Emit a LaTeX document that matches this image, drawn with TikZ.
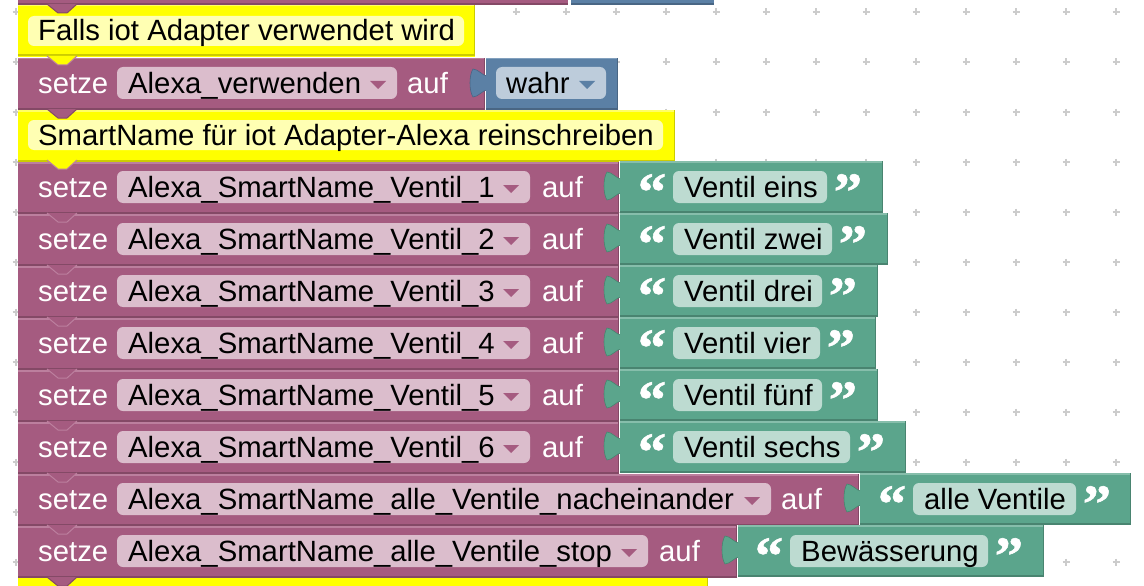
\documentclass[tikz,border=0pt]{standalone}
\usepackage{fontspec}
\setmainfont{Liberation Sans}
\newfontfamily\quotefont[FakeStretch=1.05,FakeBold=1]{Liberation Serif}
\definecolor{purp}{HTML}{A55B80}
\definecolor{purplight}{HTML}{BC7F9E}
\definecolor{purpdark}{HTML}{844966}
\definecolor{purpfield}{HTML}{DBBDCC}
\definecolor{blu}{HTML}{5B80A5}
\definecolor{blulight}{HTML}{82A0BE}
\definecolor{bludark}{HTML}{496684}
\definecolor{blufield}{HTML}{BDCCDB}
\definecolor{grn}{HTML}{5BA58C}
\definecolor{grnlight}{HTML}{86BEAB}
\definecolor{grndark}{HTML}{498470}
\definecolor{grnfield}{HTML}{BDDBD1}
\definecolor{yel}{HTML}{FFFF00}
\definecolor{yellight}{HTML}{FFFF66}
\definecolor{yeldark}{HTML}{CCCC00}
\definecolor{yelfield}{HTML}{FFFFB3}
\tikzset{
  blocktext/.style={anchor=base west,inner sep=0pt,font=\fontsize{29.3}{32}\selectfont},
  whitetext/.style={blocktext,text=white},
  quotemark/.style={anchor=base,inner sep=0pt,text=white,font=\quotefont\bfseries\fontsize{54}{54}\selectfont},
}
% block body: colour, left, right, top, height
\newcommand{\blockbody}[5]{
  \fill[#1] (#2,#4) rectangle (#3,#4+#5);
  \fill[#1light] (#2,#4) rectangle (#3,#4+1.5);
  \fill[#1dark] (#2,#4+#5-2.5) rectangle (#3,#4+#5-.5);
  \fill[#1dark] (#3-1.5,#4) rectangle (#3,#4+#5-.5);
}
% puzzle tab of a value block: colour, left, top
\newcommand{\valuetab}[3]{
  \fill[white] (#2-1,#3) rectangle (#2,#3+51);
  \fill[#1,draw=#1dark,line width=.6pt] (#2+1,#3+18) .. controls (#2-3,#3+18) and (#2-8,#3+11) .. (#2-13,#3+11)
    .. controls (#2-17,#3+17) and (#2-17,#3+33) .. (#2-13,#3+39)
    .. controls (#2-8,#3+39) and (#2-3,#3+32) .. (#2+1,#3+32) -- cycle;
  \fill[#1] (#2,#3+17) rectangle (#2+2,#3+33);
}
% dropdown arrow: colour, end of field, top of row
\newcommand{\droparrow}[3]{
  \fill[#1] (#2-27,#3+23) -- (#2-11,#3+23) -- (#2-19,#3+31) -- cycle;
}
% notch under a block: colour, edge colour, y
\newcommand{\notch}[3]{
  \fill[#1] (47,#3) -- (58,#3+9) -- (67,#3+9) -- (77,#3) -- cycle;
  \draw[#2,line width=1pt] (47,#3) -- (58,#3+9) -- (67,#3+9) -- (77,#3);
}
\begin{document}
\begin{tikzpicture}[x=1pt,y=-1pt]
  \useasboundingbox (0,0) rectangle (1144,586);
  % grid
  \foreach \gx in {16,66,...,1116}
    \foreach \gy in {12,62,...,562}
      \draw[black!20,line width=1.6pt] (\gx-3.5,\gy) -- (\gx+3.5,\gy) (\gx,\gy-3.5) -- (\gx,\gy+3.5);

  % blocks cut off at the top and bottom
  \fill[purp] (18,-2) rectangle (568,4);
  \fill[purpdark] (18,3) rectangle (568,5);
  \fill[blu] (571,-2) rectangle (714,4);
  \fill[bludark] (571,3) rectangle (714,5);
  \fill[yel] (18,577) rectangle (708,588);
  \fill[yeldark] (706.5,577) rectangle (708,588);

  % comments
  \blockbody{yel}{18}{475}{5}{52}
  \fill[yelfield,rounded corners=6pt] (28,16) rectangle (464,46);
  \node[blocktext] (comment1) at (38,41) {Falls iot Adapter verwendet wird};
  \blockbody{yel}{18}{675}{110}{52}
  \fill[yelfield,rounded corners=6pt] (28,120) rectangle (663,150);
  \node[blocktext] (comment2) at (38,145) {SmartName für iot Adapter-Alexa reinschreiben};

  % setze .. auf wahr
  \blockbody{purp}{18}{485}{58}{52}
  \fill[purpfield,rounded corners=6pt] (117,67) rectangle (397,99);
  \droparrow{purp}{397}{58}
  \node[whitetext] (setze0) at (38,93) {setze};
  \node[blocktext] (var0) at (128,93) {Alexa\_verwenden};
  \node[whitetext] (auf0) at (407,93) {auf};
  \blockbody{blu}{486}{618}{58}{52}
  \valuetab{blu}{486}{58}
  \fill[blufield,rounded corners=6pt] (496,67) rectangle (606,99);
  \droparrow{blu}{606}{58}
  \node[blocktext] (val0) at (506,93) {wahr};

  % setze .. auf "text"
  \foreach \rowid/\rowtop/\varname/\fieldend/\aufx/\stmtend/\valend/\strfrom/\strto/\strtext in {
    1/162/{Alexa\_SmartName\_Ventil\_1}/530/542/619/883/673/827/{Ventil eins},
    2/214/{Alexa\_SmartName\_Ventil\_2}/530/542/619/888/673/832/{Ventil zwei},
    3/266/{Alexa\_SmartName\_Ventil\_3}/530/542/619/878/673/822/{Ventil drei},
    4/318/{Alexa\_SmartName\_Ventil\_4}/530/542/619/876/673/820/{Ventil vier},
    5/370/{Alexa\_SmartName\_Ventil\_5}/530/542/619/878/673/822/{Ventil fünf},
    6/422/{Alexa\_SmartName\_Ventil\_6}/530/542/619/906/673/850/{Ventil sechs},
    7/474/{Alexa\_SmartName\_alle\_Ventile\_nacheinander}/771/781/859/1131/913/1076/{alle Ventile},
    8/526/{Alexa\_SmartName\_alle\_Ventile\_stop}/648/659/737/1044/790/988/{Bewässerung}} {
    \blockbody{purp}{18}{\stmtend}{\rowtop}{52}
    \fill[purpfield,rounded corners=6pt] (117,\rowtop+9) rectangle (\fieldend,\rowtop+41);
    \droparrow{purp}{\fieldend}{\rowtop}
    \node[whitetext] (setze\rowid) at (38,\rowtop+35) {setze};
    \node[blocktext] (var\rowid) at (128,\rowtop+35) {\varname};
    \node[whitetext] (auf\rowid) at (\aufx,\rowtop+35) {auf};
    \blockbody{grn}{\stmtend+1}{\valend}{\rowtop-1}{52}
    \valuetab{grn}{\stmtend+1}{\rowtop-1}
    \fill[grnfield,rounded corners=6pt] (\strfrom,\rowtop+9) rectangle (\strto,\rowtop+41);
    \node[blocktext] (str\rowid) at (\strfrom+11,\rowtop+35) {\strtext};
    \node[quotemark] (open\rowid) at (\strfrom-21,\rowtop+48) {“};
    \node[quotemark] (close\rowid) at (\strto+21,\rowtop+48) {”};
  }

  % notches on top of everything
  \notch{purp}{purpdark}{4}
  \notch{yel}{purplight}{56}
  \notch{purp}{purpdark}{109}
  \notch{yel}{purplight}{160}
  \foreach \ny in {213,265,...,525} {
    \notch{purp}{purplight}{\ny}
  }
  \notch{purp}{purpdark}{577}
\end{tikzpicture}
\end{document}
